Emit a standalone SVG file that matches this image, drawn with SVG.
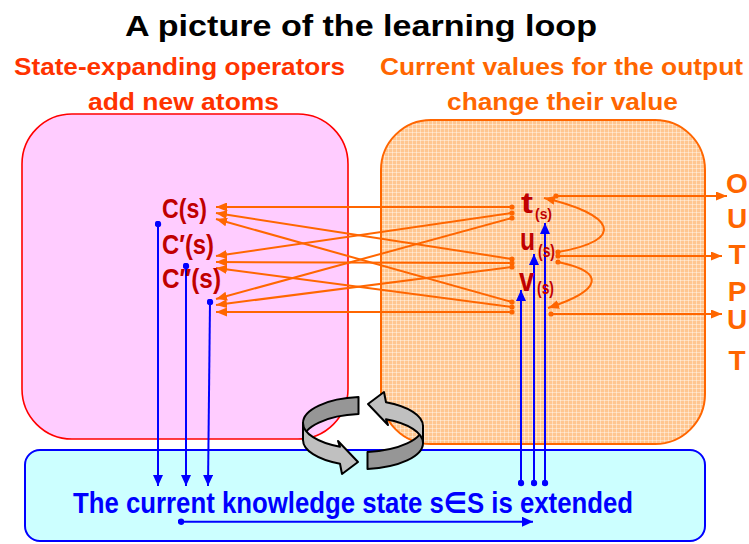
<svg xmlns="http://www.w3.org/2000/svg" width="749" height="544" viewBox="0 0 749 544">
<style>
text{font-family:"Liberation Sans",Arial,"DejaVu Sans",sans-serif;font-weight:bold}
.title{font-size:30px;fill:#000}
.sl{font-size:24px;fill:#FF3300}
.sr{font-size:24px;fill:#FF6600}
.nd{fill:#C00000}
.out{font-size:28px;fill:#FF6600;text-anchor:middle}
.st{font-size:29px;fill:#0000FF}
.oa{stroke:#FF6600;stroke-width:2;fill:none;marker-start:url(#od);marker-end:url(#oh)}
.ba{stroke:#0000FF;stroke-width:2;fill:none;marker-start:url(#bd);marker-end:url(#bh)}
.cl{fill:#C0C0C0;stroke:#000;stroke-width:2;stroke-linejoin:round}
.cd{fill:#969696;stroke:#000;stroke-width:2;stroke-linejoin:round}
</style>
<defs>
<pattern id="mesh" width="4" height="4" patternUnits="userSpaceOnUse">
<rect width="4" height="4" fill="#FFC690"/>
<path d="M0,0.5H4M0.5,0V4" stroke="#FFFFFF" stroke-opacity="0.4" stroke-width="1"/>
</pattern>
<marker id="oh" markerWidth="11" markerHeight="9" refX="11" refY="4.5" orient="auto" markerUnits="userSpaceOnUse"><path d="M0,0L11,4.5L0,9Z" fill="#FF6600"/></marker>
<marker id="od" markerWidth="6" markerHeight="6" refX="3" refY="3" markerUnits="userSpaceOnUse"><circle cx="3" cy="3" r="2.6" fill="#FF6600"/></marker>
<marker id="bh" markerWidth="11" markerHeight="10" refX="11" refY="5" orient="auto" markerUnits="userSpaceOnUse"><path d="M0,0L11,5L0,10Z" fill="#0000FF"/></marker>
<marker id="bd" markerWidth="7" markerHeight="7" refX="3.5" refY="3.5" markerUnits="userSpaceOnUse"><circle cx="3.5" cy="3.5" r="3.2" fill="#0000FF"/></marker>
<g id="cyc">
<path class="cd" d="M358.5,397.1A62 26 0 0 0 303,423L303,440A62 26 0 0 1 358.5,414.1Z"/>
<path class="cl" d="M303,423A62 26 0 0 0 340,446.8L338,441L358,462L342,474L340,463.8A62 26 0 0 1 303,440Z"/>
</g>
</defs>

<text class="title" x="125" y="36" textLength="472" lengthAdjust="spacingAndGlyphs">A picture of the learning loop</text>
<text class="sl" x="14" y="75" textLength="331" lengthAdjust="spacingAndGlyphs">State-expanding operators</text>
<text class="sl" x="88" y="110" textLength="191" lengthAdjust="spacingAndGlyphs">add new atoms</text>
<text class="sr" x="380" y="75" textLength="363" lengthAdjust="spacingAndGlyphs">Current values for the output</text>
<text class="sr" x="447" y="110" textLength="231" lengthAdjust="spacingAndGlyphs">change their value</text>

<g id="box-operators"><rect x="22" y="114" width="326" height="325" rx="50" ry="50" fill="#FFCCFF" stroke="#FF0000" stroke-width="1.6"/></g>
<g id="box-values"><rect x="381" y="120" width="324" height="324" rx="50" ry="50" fill="url(#mesh)" stroke="#FF6600" stroke-width="2"/></g>
<g id="box-state"><rect x="25" y="450" width="680" height="91" rx="15" ry="15" fill="#CCFFFF" stroke="#0000FF" stroke-width="2"/>
<text class="st" x="73" y="513" textLength="560" lengthAdjust="spacingAndGlyphs">The current knowledge state s∈S is extended</text></g>

<g id="cycle">
<use href="#cyc"/>
<use href="#cyc" transform="rotate(180 363 433)"/>
</g>

<g id="connectors">
<path class="oa" d="M512,207L216,207"/>
<path class="oa" d="M512,213L216,256"/>
<path class="oa" d="M512,218L216,299"/>
<path class="oa" d="M512,259L216,213"/>
<path class="oa" d="M512,263L216,262"/>
<path class="oa" d="M512,267L216,305"/>
<path class="oa" d="M512,302L216,219"/>
<path class="oa" d="M512,307L216,268"/>
<path class="oa" d="M512,312L216,312"/>
<path class="oa" d="M556,196L727,196"/>
<path class="oa" d="M558,252C628,240 614,214 544,198"/>
<path class="oa" d="M558,256L722,256"/>
<path class="oa" d="M558,262C606,272 603,290 548,308"/>
<path class="oa" d="M551,314L722,314"/>
<path class="ba" d="M158,224L158,486"/>
<path class="ba" d="M186,266L186,486"/>
<path class="ba" d="M210,302L208,486"/>
<path class="ba" d="M521,483L521,290"/>
<path class="ba" d="M534,483L534,254"/>
<path class="ba" d="M545,483L545,223"/>
<path class="ba" d="M181,521.7L533,521.7"/>
</g>

<g id="node-C"><text class="nd" x="162" y="218" font-size="28" textLength="45" lengthAdjust="spacingAndGlyphs">C(s)</text></g>
<g id="node-C1"><text class="nd" x="162" y="254" font-size="28" textLength="52" lengthAdjust="spacingAndGlyphs">C′(s)</text></g>
<g id="node-C2"><text class="nd" x="162" y="288" font-size="28" textLength="59" lengthAdjust="spacingAndGlyphs">C″(s)</text></g>
<g id="node-t"><text class="nd"><tspan x="521" y="213" font-size="30" textLength="12" lengthAdjust="spacingAndGlyphs">t</tspan><tspan x="535" y="219" font-size="15" textLength="17" lengthAdjust="spacingAndGlyphs">(s)</tspan></text></g>
<g id="node-u"><text class="nd"><tspan x="520" y="250" font-size="32" textLength="15" lengthAdjust="spacingAndGlyphs">u</tspan><tspan x="538" y="257" font-size="18" textLength="17" lengthAdjust="spacingAndGlyphs">(s)</tspan></text></g>
<g id="node-v"><text class="nd"><tspan x="519" y="291" font-size="33" textLength="15" lengthAdjust="spacingAndGlyphs">v</tspan><tspan x="537" y="294" font-size="19" textLength="17" lengthAdjust="spacingAndGlyphs">(s)</tspan></text></g>

<g id="output">
<text class="out"><tspan x="737" y="193">O</tspan><tspan x="737" y="228">U</tspan><tspan x="737" y="264">T</tspan><tspan x="737" y="301">P</tspan><tspan x="737" y="329">U</tspan><tspan x="737" y="370">T</tspan></text>
</g>
</svg>
